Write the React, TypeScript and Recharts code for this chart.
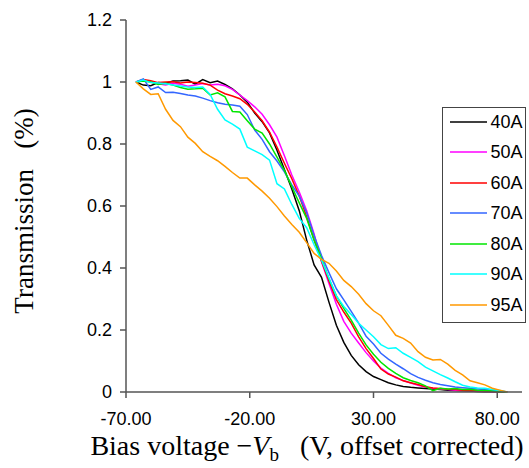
import { LineChart, Line, XAxis, YAxis, Legend, Label } from "recharts";

// bias voltage (V, offset corrected)
const volts = [
  -66, -63, -60, -57, -54, -51, -48, -45, -42, -39, -36, -33, -30, -27, -24, -21, -18,
  -15, -12, -9, -6, -3, 0, 3, 6, 9, 12, 15, 18, 21, 24, 27, 30, 33, 36, 39, 42, 45, 48,
  51, 54, 57, 60, 63, 66, 69, 72, 75, 78, 81, 84,
];

const t40 = [
  1.0, 0.99, 0.988, 0.998, 0.996, 1.003, 1.004, 1.006, 0.993, 1.008, 0.998, 1.003, 0.992,
  0.978, 0.958, 0.935, 0.9, 0.872, 0.836, 0.78, 0.718, 0.655, 0.585, 0.49, 0.41, 0.37,
  0.29, 0.215, 0.16, 0.118, 0.088, 0.066, 0.05, 0.04, 0.03, 0.023, 0.018, 0.015, 0.013,
  0.011, 0.01, 0.008, 0.006, 0.005, 0.004, 0.003, 0.002, 0.001, 0.001, 0, 0,
];
const t50 = [
  1.0, 1.004, 1.002, 0.994, 0.99, 0.996, 0.993, 0.986, 0.99, 0.995, 0.99, 0.993, 0.988,
  0.976, 0.958, 0.94, 0.92, 0.896, 0.862, 0.822, 0.762, 0.7, 0.645, 0.585, 0.51, 0.42,
  0.35, 0.283, 0.228, 0.19, 0.158, 0.127, 0.1, 0.077, 0.06, 0.046, 0.037, 0.029, 0.022,
  0.016, 0.012, 0.01, 0.008, 0.006, 0.005, 0.004, 0.003, 0.002, 0.001, 0, 0,
];
const t60 = [
  1.0, 1.008, 1.004, 0.998, 1.0, 1.001, 0.997, 1.0, 0.998, 0.996, 0.99, 0.974, 0.962,
  0.955, 0.946, 0.928, 0.903, 0.875, 0.838, 0.79, 0.738, 0.688, 0.632, 0.565, 0.49,
  0.422, 0.358, 0.298, 0.258, 0.222, 0.178, 0.14, 0.108, 0.074, 0.058, 0.048, 0.036,
  0.03, 0.024, 0.017, 0.013, 0.011, 0.009, 0.008, 0.006, 0.005, 0.004, 0.003, 0.002,
  0.001, 0,
];
const t70 = [
  1.0, 1.01, 0.976, 0.984, 0.966, 0.967, 0.963, 0.958, 0.955, 0.948, 0.94, 0.933, 0.928,
  0.926, 0.922, 0.895, 0.845, 0.815, 0.775, 0.745, 0.71, 0.668, 0.632, 0.578, 0.505,
  0.44, 0.385, 0.333, 0.297, 0.26, 0.222, 0.18, 0.155, 0.125, 0.106, 0.09, 0.075, 0.059,
  0.047, 0.038, 0.03, 0.024, 0.02, 0.016, 0.014, 0.012, 0.01, 0.008, 0.006, 0.003, 0,
];
const t80 = [
  1.0, 1.003, 1.0, 0.992, 0.996, 0.99, 0.982, 0.977, 0.978, 0.98, 0.958, 0.965, 0.952,
  0.905, 0.903, 0.875, 0.848, 0.835, 0.8, 0.758, 0.715, 0.662, 0.61, 0.56, 0.49, 0.43,
  0.365, 0.31, 0.27, 0.232, 0.19, 0.152, 0.122, 0.096, 0.076, 0.06, 0.046, 0.037, 0.03,
  0.02, 0.004, 0.012, 0.01, 0.011, 0.008, 0.009, 0.006, 0.005, 0.003, 0.001, 0,
];
const t90 = [
  1.0, 1.006, 0.998, 0.997, 0.994, 0.99, 0.987, 0.984, 0.982, 0.984, 0.96, 0.912, 0.878,
  0.864, 0.848, 0.79, 0.778, 0.766, 0.748, 0.672, 0.655, 0.605, 0.56, 0.53, 0.475, 0.425,
  0.368, 0.31, 0.276, 0.25, 0.222, 0.2, 0.178, 0.153, 0.14, 0.143, 0.125, 0.112, 0.098,
  0.08, 0.068, 0.056, 0.045, 0.033, 0.022, 0.016, 0.013, 0.012, 0.008, 0.005, 0,
];
const t95 = [
  1.0, 0.978, 0.96, 0.962, 0.912, 0.876, 0.856, 0.822, 0.802, 0.775, 0.76, 0.746, 0.728,
  0.708, 0.69, 0.69, 0.668, 0.648, 0.625, 0.598, 0.568, 0.54, 0.515, 0.482, 0.447, 0.428,
  0.415, 0.39, 0.36, 0.34, 0.315, 0.285, 0.262, 0.246, 0.215, 0.183, 0.173, 0.158, 0.13,
  0.112, 0.103, 0.105, 0.09, 0.07, 0.055, 0.036, 0.03, 0.023, 0.012, 0.006, 0,
];

const seriesNames = ["40A", "50A", "60A", "70A", "80A", "90A", "95A"];
const seriesColors = ["#000000", "#ff00ff", "#ff0000", "#3366ff", "#00e600", "#00ffff", "#ff9900"];
const seriesValues = [t40, t50, t60, t70, t80, t90, t95];

const xTicks = [-70, -20, 30, 80];
const yTicks = [0, 0.2, 0.4, 0.6, 0.8, 1, 1.2];

const rows = volts.map((v, i) => {
  const row: Record<string, number> = { v };
  seriesNames.forEach((name, k) => {
    row[name] = seriesValues[k][i];
  });
  return row;
});

const sans = "'Liberation Sans', Arial, sans-serif";
const serif = "'Liberation Serif', 'Times New Roman', serif";
const axisGrey = "#555";

function LegendBox() {
  return (
    <div
      style={{
        position: "relative",
        width: 84,
        height: 216,
        boxSizing: "border-box",
        border: "1.5px solid #444",
        background: "#fff",
      }}
    >
      {seriesNames.map((name, i) => (
        <div
          key={name}
          style={{
            position: "absolute",
            left: 6.5,
            top: 15 + i * 30.55 - 1.5 - 10,
            height: 20,
            display: "flex",
            alignItems: "center",
          }}
        >
          <svg width={37} height={6} style={{ display: "block" }}>
            <line x1={0} y1={3} x2={37} y2={3} stroke={seriesColors[i]} strokeWidth={1.5} />
          </svg>
          <span style={{ marginLeft: 4, fontSize: 18, lineHeight: "20px", fontFamily: sans, color: "#000" }}>
            {name}
          </span>
        </div>
      ))}
    </div>
  );
}

function XTitle() {
  return (
    <text x={307} y={455} textAnchor="middle" fontFamily={serif} fontSize={28} fill="#000">
      Bias voltage −<tspan fontStyle="italic">V</tspan>
      <tspan dy={6} fontSize={19}>b</tspan>
      <tspan dy={-6}>{"\u00A0\u00A0\u00A0(V, offset corrected)"}</tspan>
    </text>
  );
}

function YTitle() {
  return (
    <text
      x={33}
      y={211}
      transform="rotate(-90, 33, 211)"
      textAnchor="middle"
      fontFamily={serif}
      fontSize={27}
      fill="#000"
    >
      {"Transmission\u00A0\u00A0\u00A0(%)"}
    </text>
  );
}

export default function App() {
  return (
    <div style={{ position: "absolute", left: 0, top: 0, width: 529, height: 468, background: "#fff" }}>
      <LineChart width={529} height={468} data={rows} margin={{ top: 20, right: 7, left: 0, bottom: 0 }}>
        <XAxis
          dataKey="v"
          type="number"
          domain={[-70, 90]}
          ticks={xTicks}
          tickFormatter={(v: number) => v.toFixed(2)}
          height={76}
          tickSize={6}
          tickMargin={14}
          axisLine={{ stroke: axisGrey, strokeWidth: 1.5 }}
          tickLine={{ stroke: axisGrey, strokeWidth: 1.5 }}
          tick={{ fill: "#000", fontSize: 18, fontFamily: sans }}
        >
          <Label content={XTitle} />
        </XAxis>
        <YAxis
          type="number"
          domain={[0, 1.2]}
          ticks={yTicks}
          width={126}
          tickSize={6}
          tickMargin={8}
          axisLine={{ stroke: axisGrey, strokeWidth: 1.5 }}
          tickLine={{ stroke: axisGrey, strokeWidth: 1.5 }}
          tick={{ fill: "#000", fontSize: 18, fontFamily: sans }}
        >
          <Label content={YTitle} />
        </YAxis>
        <Legend
          layout="vertical"
          align="center"
          verticalAlign="middle"
          content={LegendBox}
          wrapperStyle={{ left: 442, top: 107, width: 84, height: 216 }}
        />
        {seriesNames.map((name, k) => (
          <Line
            key={name}
            dataKey={name}
            name={name}
            type="linear"
            stroke={seriesColors[k]}
            strokeWidth={1.5}
            dot={false}
            activeDot={false}
            isAnimationActive={false}
          />
        ))}
      </LineChart>
    </div>
  );
}
